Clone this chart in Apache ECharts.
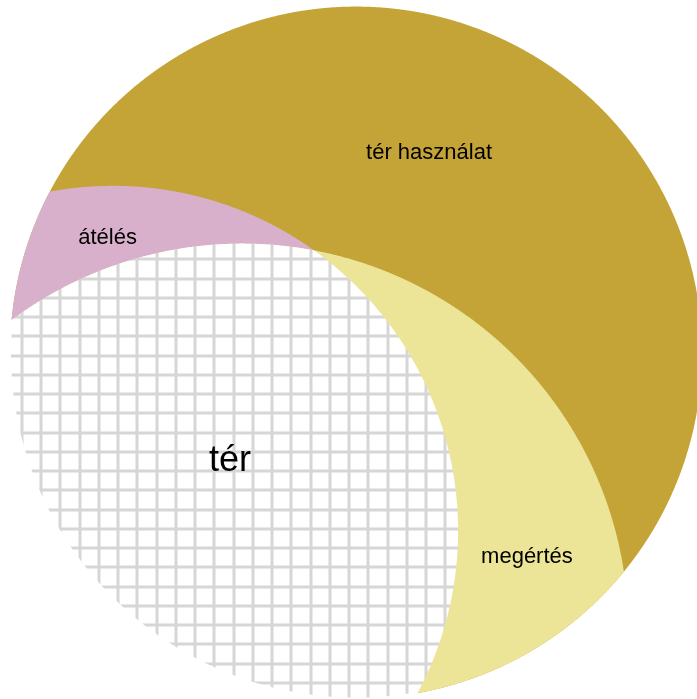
<!DOCTYPE html>
<html>
<head>
<meta charset="utf-8">
<script src="https://cdn.jsdelivr.net/npm/echarts@6/dist/echarts.min.js"></script>
<style>
  html, body { margin: 0; padding: 0; background: #fff; }
  #chart { width: 697px; height: 699px; }
</style>
</head>
<body>
<div id="chart"></div>
<script>
  // circles of the diagram: the whole (universe) and the two sets, in data units
  const circleNames = ['tér használat', 'átélés', 'megértés']
  const circleX = [0, -70.2, -32.9]
  const circleY = [0, -51.5, -80.1]
  const circleR = [100, 99.7, 111.6]

  // regions: which circles they are the intersection of, and where the label sits
  const regionNames = ['tér használat', 'átélés', 'megértés', 'tér']
  const regionSets = [[0], [0, 1], [0, 2], [0, 1, 2]]
  const labelX = [21.1, -71.8, 49.4, -36.4]
  const labelY = [57.7, 33.2, -59.0, -31.3]

  const regionColors = ['#c4a436', '#d9b0cb', '#ece598', null]
  const labelSizes = [22, 22, 22, 36]

  // white cells with grey lines for the intersection
  const makeGridPattern = () => {
    const size = 77
    const step = size / 4
    const c = document.createElement('canvas')
    c.width = size
    c.height = size
    const ctx = c.getContext('2d')
    ctx.fillStyle = '#ffffff'
    ctx.fillRect(0, 0, size, size)
    ctx.fillStyle = '#d6d6d6'
    for (let k = 0; k < 4; k++) {
      const vx = Math.round(2.5 + k * step)
      const hy = Math.round(9.2 + k * step)
      ctx.fillRect(vx - 1.5, 0, 3, size)
      ctx.fillRect(0, hy - 1.5, size, 3)
    }
    return c
  }

  const dist = (x, y, j) => Math.hypot(x - circleX[j], y - circleY[j])

  // boundary of the intersection of the given circles (convex), as points in data units,
  // each tagged with the circle(s) it lies on
  const regionPoints = (set) => {
    const pts = []
    const N = 2880
    set.forEach((i) => {
      for (let k = 0; k < N; k++) {
        const t = (k / N) * Math.PI * 2
        const x = circleX[i] + circleR[i] * Math.cos(t)
        const y = circleY[i] + circleR[i] * Math.sin(t)
        if (set.every((j) => j === i || dist(x, y, j) <= circleR[j] + 1e-7)) pts.push([x, y, i, i])
      }
    })
    // exact corner points
    for (let a = 0; a < set.length; a++) {
      for (let b = a + 1; b < set.length; b++) {
        const i = set[a]
        const j = set[b]
        const dx = circleX[j] - circleX[i]
        const dy = circleY[j] - circleY[i]
        const d = Math.hypot(dx, dy)
        const l = (d * d + circleR[i] * circleR[i] - circleR[j] * circleR[j]) / (2 * d)
        const h = Math.sqrt(Math.max(0, circleR[i] * circleR[i] - l * l))
        const bx = circleX[i] + (l * dx) / d
        const by = circleY[i] + (l * dy) / d
        ;[
          [bx - (h * dy) / d, by + (h * dx) / d],
          [bx + (h * dy) / d, by - (h * dx) / d]
        ].forEach((p) => {
          const ok = set.every((m) => m === i || m === j || dist(p[0], p[1], m) <= circleR[m] + 1e-7)
          if (ok) pts.push([p[0], p[1], i, j])
        })
      }
    }
    let cx = 0
    let cy = 0
    pts.forEach((p) => {
      cx += p[0]
      cy += p[1]
    })
    cx /= pts.length
    cy /= pts.length
    pts.sort((p, q) => Math.atan2(p[1] - cy, p[0] - cx) - Math.atan2(q[1] - cy, q[0] - cx))
    return pts
  }

  // the part of a region's edge that runs along the outer circle, in order
  const rimOf = (pts) => {
    const onRim = (p) => p[2] === 0 || p[3] === 0
    const start = pts.findIndex((p) => !onRim(p))
    const rim = []
    for (let k = 1; k <= pts.length; k++) {
      const p = pts[(start + k) % pts.length]
      if (onRim(p)) rim.push(p)
    }
    return rim
  }

  const gridPattern = makeGridPattern()
  const chart = echarts.init(document.getElementById('chart'))

  const option = {
    animation: false,
    backgroundColor: '#ffffff',
    grid: { left: 0, right: 0, top: 0, bottom: 0 },
    xAxis: { type: 'value', min: -102.9, max: 98.55, show: false },
    yAxis: { type: 'value', min: -100.1, max: 101.9, show: false },
    series: [
      {
        type: 'custom',
        coordinateSystem: 'cartesian2d',
        data: regionNames.map((name, i) => ({ name, value: [labelX[i], labelY[i]] })),
        renderItem: (params, api) => {
          const i = params.dataIndex
          const raw = regionPoints(regionSets[i])
          const points = raw.map((p) => api.coord([p[0], p[1]]))
          const labelPos = api.coord([labelX[i], labelY[i]])
          const fill = regionColors[i] || { image: gridPattern, repeat: 'repeat' }
          const children = [
            {
              type: 'polygon',
              shape: { points },
              style: { fill, stroke: null }
            }
          ]
          // the hatched part has no visible edge where it meets the outer rim
          if (!regionColors[i]) {
            children.push({
              type: 'polyline',
              shape: { points: rimOf(raw).map((p) => api.coord([p[0], p[1]])) },
              style: { stroke: '#ffffff', lineWidth: 2, fill: null }
            })
          }
          children.push({
            type: 'text',
            z2: 100,
            style: {
              text: regionNames[i],
              x: labelPos[0],
              y: labelPos[1],
              align: 'center',
              verticalAlign: 'middle',
              fill: '#000000',
              fontSize: labelSizes[i],
              fontFamily: 'Liberation Sans, Arial, sans-serif'
            }
          })
          return { type: 'group', children }
        }
      }
    ]
  }

  chart.setOption(option)
</script>
</body>
</html>
